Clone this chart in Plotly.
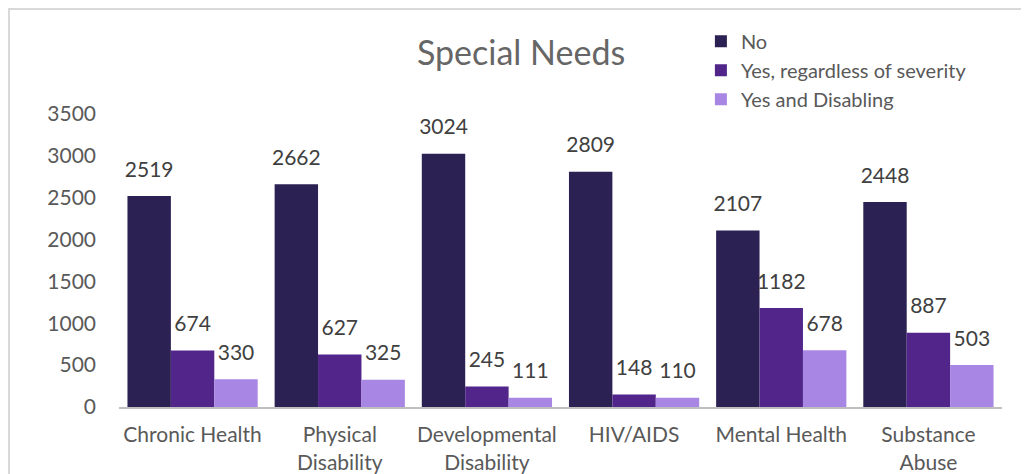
import plotly.graph_objects as go

categories = ["Chronic Health", "Physical<br>Disability", "Developmental<br>Disability",
              "HIV/AIDS", "Mental Health", "Substance<br>Abuse"]
no_vals = [2519, 2662, 3024, 2809, 2107, 2448]
yes_vals = [674, 627, 245, 148, 1182, 887]
dis_vals = [330, 325, 111, 110, 678, 503]
series_names = ["No", "Yes, regardless of severity", "Yes and Disabling"]
colors = ["#2b2152", "#51258a", "#a886e3"]
y_ticks = [0, 500, 1000, 1500, 2000, 2500, 3000, 3500]

FONT = "Lato"
fig = go.Figure()
for i, (name, vals, col) in enumerate(zip(series_names, [no_vals, yes_vals, dis_vals], colors)):
    fig.add_trace(go.Bar(
        x=categories, y=vals, name=name, offsetgroup=str(i),
        marker=dict(color=col, line=dict(width=0)),
    ))
for i, vals in enumerate([no_vals, yes_vals, dis_vals]):
    fig.add_trace(go.Scatter(
        x=categories, y=vals, offsetgroup=str(i), mode="markers+text",
        marker=dict(size=21, color="rgba(0,0,0,0)"),
        text=[str(v) for v in vals], textposition="top center",
        textfont=dict(family=FONT, size=21, color="#404040"),
        showlegend=False, hoverinfo="skip", cliponaxis=False,
    ))

fig.update_layout(
    width=1029, height=474,
    margin=dict(l=111, r=35, t=106, b=75, autoexpand=False),
    paper_bgcolor="white", plot_bgcolor="white",
    barmode="group", bargap=0.115, bargroupgap=0,
    scattermode="group", scattergap=0.115,
    title=dict(text="Special Needs", x=0.4986, xanchor="center", y=0.905, yanchor="middle",
               font=dict(family=FONT, size=34, color="#666666")),
    legend=dict(x=0.659, y=1.315, xanchor="left", yanchor="top",
                font=dict(family=FONT, size=20, color="#595959"),
                bgcolor="rgba(0,0,0,0)", tracegroupgap=0, itemwidth=30),
    showlegend=True,
    font=dict(family=FONT, color="#595959"),
)
fig.update_xaxes(showline=True, linecolor="#bfbfbf", linewidth=2, ticks="",
                 ticklabelstandoff=8, automargin=False,
                 tickfont=dict(family=FONT, size=21, color="#595959"), showgrid=False)
fig.update_yaxes(range=[0, 3500], tickvals=y_ticks, showgrid=False, zeroline=False,
                 showline=False, ticks="", ticklabelstandoff=22, automargin=False,
                 tickfont=dict(family=FONT, size=21, color="#595959"))
fig.add_shape(type="rect", xref="paper", yref="paper",
              x0=-0.1246, x1=1.2, y0=-0.5, y1=1.358,
              line=dict(color="#d9d9d9", width=2), fillcolor="rgba(0,0,0,0)", layer="below")
fig.write_html("out.html")
